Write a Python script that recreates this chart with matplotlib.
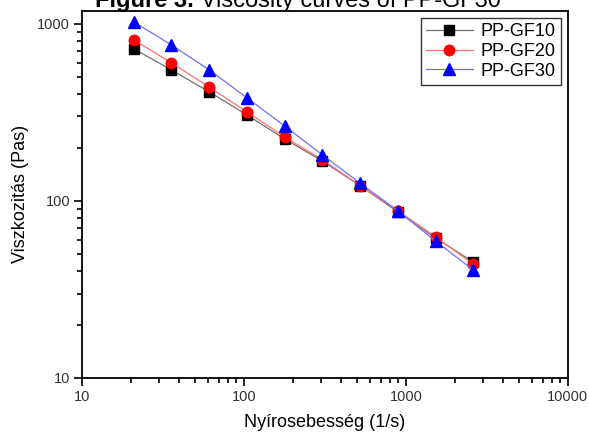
import matplotlib.pyplot as plt
from matplotlib.ticker import FixedLocator, NullFormatter

plt.rcParams['font.family'] = ['Liberation Sans', 'DejaVu Sans']

# shear rate (1/s)
shear_rate = [20.9, 35.7, 61.1, 104.5, 178.6, 305.3, 522, 892, 1525, 2608]

# viscosity (Pa s)
gf10 = [723, 550, 413, 306, 224, 168, 122, 86.7, 61.8, 45.2]
gf20 = [812, 603, 440, 318, 230, 171, 122, 88, 62.7, 44]
gf30 = [1026, 761, 550, 382, 265, 182, 126, 88, 59.4, 40.7]

labels = ['PP-GF10', 'PP-GF20', 'PP-GF30']

fig = plt.figure(figsize=(5.89, 4.38), dpi=100)
ax = fig.add_axes([0.139, 0.137, 0.825, 0.839])

ax.plot(shear_rate, gf10, color='#707070', lw=0.9, marker='s', ms=6.5,
        mec='black', mfc='black', label=labels[0])
ax.plot(shear_rate, gf20, color='#ff7070', lw=0.9, marker='o', ms=7.5,
        mec='red', mfc='red', label=labels[1])
ax.plot(shear_rate, gf30, color='#7070ff', lw=0.9, marker='^', ms=8,
        mec='blue', mfc='blue', label=labels[2])

ax.set_xscale('log')
ax.set_yscale('log')
ax.set_xlim(10, 10000)
ax.set_ylim(10, 1190)
ax.set_xticks([10, 100, 1000, 10000])
ax.set_xticklabels(['10', '100', '1000', '10000'])
ax.set_yticks([10, 100, 1000])
ax.set_yticklabels(['10', '100', '1000'])

# minor ticks 2..9 in every decade
minor_x = [m * 10 ** e for e in range(1, 4) for m in range(2, 10)]
minor_y = [m * 10 ** e for e in range(1, 3) for m in range(2, 10)]
ax.xaxis.set_minor_locator(FixedLocator(minor_x))
ax.yaxis.set_minor_locator(FixedLocator(minor_y))
ax.xaxis.set_minor_formatter(NullFormatter())
ax.yaxis.set_minor_formatter(NullFormatter())

ax.tick_params(which='major', direction='out', length=5.5, width=1.2,
               labelsize=10.5, pad=3, top=False, right=False)
ax.tick_params(which='minor', direction='out', length=3.5, width=1.2,
               color='black', top=False, right=False)
ax.tick_params(axis='both', which='both', labelcolor='#333333')
for s in ax.spines.values():
    s.set_linewidth(1.3)

ax.set_xlabel('Nyírosebesség (1/s)', fontsize=13, labelpad=7)
ax.set_ylabel('Viszkozitás (Pas)', fontsize=13, labelpad=6)

leg = ax.legend(loc='upper right', fontsize=13, frameon=True, fancybox=False,
                edgecolor='black', handlelength=2.6, borderpad=0.3,
                labelspacing=0.15, handletextpad=0.4, borderaxespad=0.4)
leg.get_frame().set_linewidth(1.0)

# title partly cut off at the top of the image
t1 = fig.text(0.161, 0.983, 'Figure 3.', fontsize=17, fontweight='bold',
              va='baseline', ha='left')
ax.annotate(' Viscosity curves of PP-GF30', xy=(1, 0), xycoords=t1,
            va='bottom', ha='left', fontsize=17, annotation_clip=False)

fig.savefig('out.png', dpi=100)
